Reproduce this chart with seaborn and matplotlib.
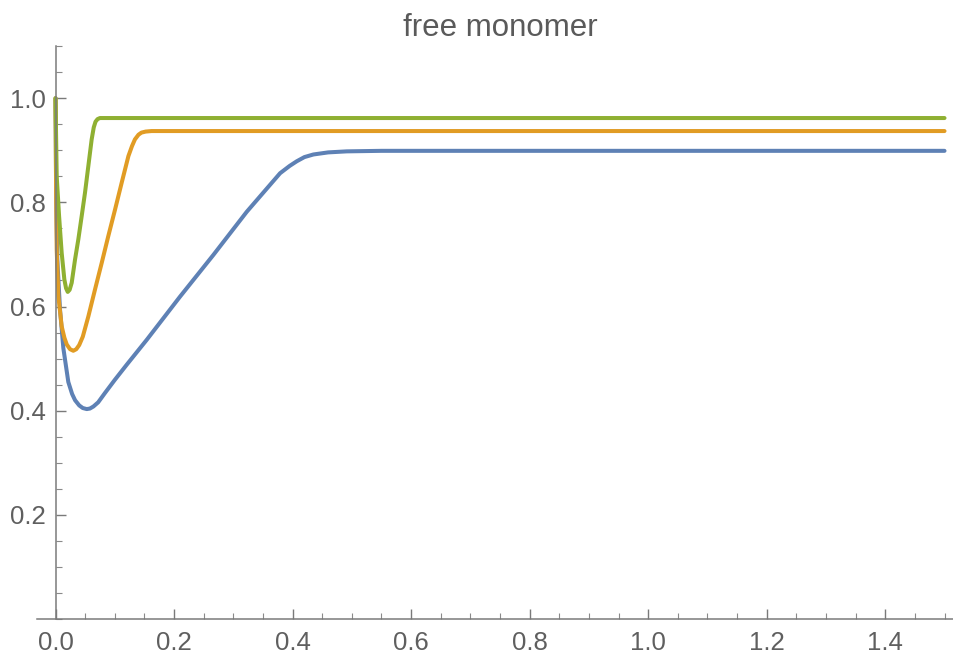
import matplotlib
matplotlib.use("Agg")
import matplotlib.pyplot as plt
from matplotlib.ticker import MultipleLocator
import seaborn as sns

# ---- data ----
blue_x = [0.0, 0.001, 0.003, 0.0076, 0.0132, 0.0216, 0.028, 0.033, 0.04, 0.046, 0.0527,
          0.058, 0.064, 0.072, 0.0835, 0.1, 0.12, 0.1539, 0.2101, 0.2663, 0.3227,
          0.3789, 0.395, 0.4071, 0.42, 0.4351, 0.46, 0.4915, 0.55, 1.5]
blue_y = [1.0, 0.83, 0.69, 0.594, 0.52, 0.455, 0.432, 0.42, 0.41, 0.405, 0.403,
          0.404, 0.408, 0.416, 0.434, 0.459, 0.488, 0.536, 0.619, 0.699, 0.782,
          0.856, 0.870, 0.879, 0.887, 0.892, 0.896, 0.898, 0.899, 0.899]

orange_x = [0.0, 0.001, 0.002, 0.0048, 0.0104, 0.015, 0.019, 0.0245, 0.030, 0.035, 0.040,
            0.046, 0.0554, 0.0667, 0.078, 0.089, 0.1004, 0.1117, 0.123, 0.129, 0.134,
            0.140, 0.145, 0.152, 0.162, 0.2, 1.5]
orange_y = [1.0, 0.82, 0.71, 0.62, 0.562, 0.54, 0.527, 0.518, 0.515, 0.518, 0.526,
            0.542, 0.581, 0.633, 0.684, 0.735, 0.786, 0.838, 0.889, 0.908, 0.921,
            0.930, 0.934, 0.936, 0.937, 0.937, 0.937]

green_x = [0.0, 0.002, 0.006, 0.0104, 0.0149, 0.0178, 0.0206, 0.0238, 0.0273, 0.0329,
           0.0385, 0.0442, 0.0498, 0.0554, 0.061, 0.0645, 0.0675, 0.071, 0.075, 0.085, 1.5]
green_y = [1.0, 0.85, 0.774, 0.703, 0.652, 0.635, 0.628, 0.632, 0.6455, 0.690,
           0.729, 0.774, 0.819, 0.870, 0.921, 0.944, 0.955, 0.960, 0.962, 0.962, 0.962]

x_ticks = [0.0, 0.2, 0.4, 0.6, 0.8, 1.0, 1.2, 1.4]
y_ticks = [0.2, 0.4, 0.6, 0.8, 1.0]
title = "free monomer"

colors = ["#5E81B5", "#E19C24", "#8FB032"]

sns.set_style("white")
plt.rcParams["font.family"] = ["Liberation Sans", "DejaVu Sans"]

fig = plt.figure(figsize=(9.54, 6.57), dpi=100)
ax = fig.add_axes([0.0385, 0.058, 0.9615, 0.8717])

for xs, ys, c in [(blue_x, blue_y, colors[0]), (orange_x, orange_y, colors[1]),
                  (green_x, green_y, colors[2])]:
    sns.lineplot(x=xs, y=ys, color=c, lw=2.9, ax=ax, estimator=None)

ax.set_xlim(-0.0317, 1.516)
ax.set_ylim(0, 1.1)

for s in ["top", "right"]:
    ax.spines[s].set_visible(False)
ax.spines["left"].set_position(("data", 0))
ax.spines["bottom"].set_position(("data", 0))
for s in ["left", "bottom"]:
    ax.spines[s].set_color("#7a7a7a")
    ax.spines[s].set_linewidth(1.1)

ax.set_xticks(x_ticks)
ax.set_xticklabels([f"{v:.1f}" for v in x_ticks])
ax.set_yticks(y_ticks)
ax.set_yticklabels([f"{v:.1f}" for v in y_ticks])
ax.xaxis.set_minor_locator(MultipleLocator(0.05))
ax.yaxis.set_minor_locator(MultipleLocator(0.05))

ax.tick_params(which="both", bottom=True, left=True, top=False, right=False)
ax.tick_params(which="major", direction="in", length=7, width=1, color="#7a7a7a",
               labelsize=18.5, labelcolor="#5f5f5f")
ax.tick_params(which="minor", direction="in", length=4, width=0.8, color="#8a8a8a")
ax.tick_params(axis="y", which="major", pad=7)
ax.tick_params(axis="x", which="major", pad=9)
ax.set_xlabel("")
ax.set_ylabel("")

fig.text(500 / 954, 1 - 28 / 657, title, ha="center", va="center",
         fontsize=22.5, color="#5a5a5a")

fig.savefig("out.png", dpi=100)
